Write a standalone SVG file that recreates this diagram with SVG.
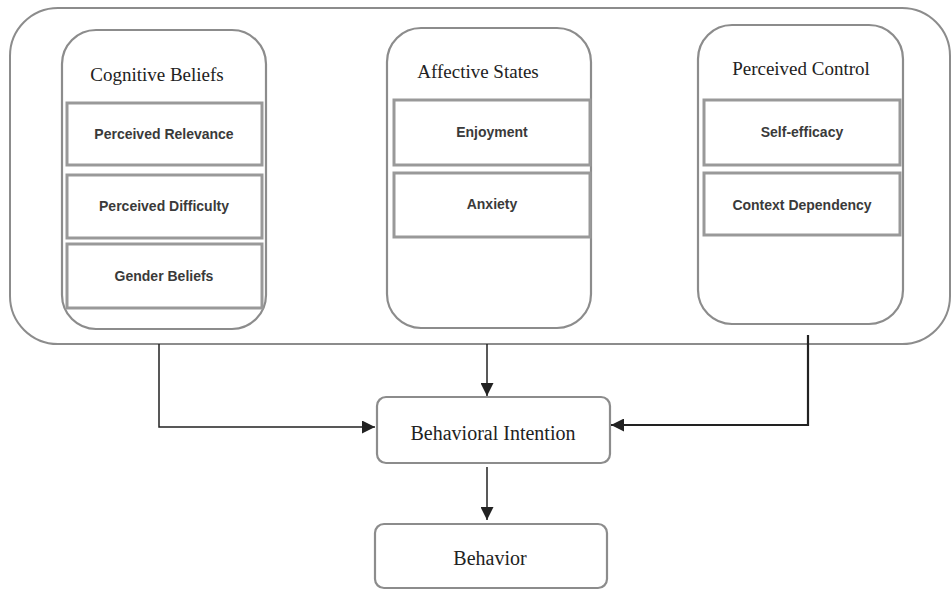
<svg xmlns="http://www.w3.org/2000/svg" width="952" height="590" viewBox="0 0 952 590">
<style>
.outer{fill:#fff;stroke:#8c8c8c;stroke-width:2}
.grp{fill:#fff;stroke:#8c8c8c;stroke-width:2.2}
.item{fill:#fff;stroke:#999;stroke-width:3}
.node{fill:#fff;stroke:#8c8c8c;stroke-width:2.2}
.title{font-family:"Liberation Serif","DejaVu Serif",serif;font-size:19px;fill:#222}
.lbl{font-family:"Liberation Sans","DejaVu Sans",sans-serif;font-size:14px;font-weight:bold;fill:#3a3a3a}
.big{font-family:"Liberation Serif","DejaVu Serif",serif;font-size:20px;fill:#222}
.con{fill:none;stroke:#222;stroke-width:1.5}
</style>
<defs>
<marker id="ah" viewBox="0 0 10 10" refX="10" refY="5" markerWidth="13" markerHeight="13" markerUnits="userSpaceOnUse" orient="auto">
<path d="M0,0 L10,5 L0,10 Z" fill="#222"/>
</marker>
</defs>
<rect class="outer" x="10" y="8" width="940" height="336" rx="48" ry="48"/>
<g id="cognitive">
<rect class="grp" x="62" y="30" width="204" height="299" rx="34" ry="34"/>
<text class="title" x="157" y="81" text-anchor="middle">Cognitive Beliefs</text>
<g id="relevance"><rect class="item" x="67" y="103" width="195" height="62"/><text class="lbl" x="164" y="139" text-anchor="middle">Perceived Relevance</text></g>
<g id="difficulty"><rect class="item" x="67" y="175" width="195" height="63"/><text class="lbl" x="164" y="211" text-anchor="middle">Perceived Difficulty</text></g>
<g id="gender"><rect class="item" x="67" y="244" width="195" height="64"/><text class="lbl" x="164" y="281" text-anchor="middle">Gender Beliefs</text></g>
</g>
<g id="affective">
<rect class="grp" x="387" y="28" width="204" height="300" rx="34" ry="34"/>
<text class="title" x="478" y="78" text-anchor="middle">Affective States</text>
<g id="enjoyment"><rect class="item" x="394" y="100" width="196" height="65"/><text class="lbl" x="492" y="137" text-anchor="middle">Enjoyment</text></g>
<g id="anxiety"><rect class="item" x="394" y="173" width="196" height="64"/><text class="lbl" x="492" y="209" text-anchor="middle">Anxiety</text></g>
</g>
<g id="control">
<rect class="grp" x="698" y="25" width="205" height="299" rx="34" ry="34"/>
<text class="title" x="801" y="75" text-anchor="middle">Perceived Control</text>
<g id="selfefficacy"><rect class="item" x="704" y="100" width="196" height="65"/><text class="lbl" x="802" y="137" text-anchor="middle">Self-efficacy</text></g>
<g id="context"><rect class="item" x="704" y="173" width="196" height="62"/><text class="lbl" x="802" y="210" text-anchor="middle">Context Dependency</text></g>
</g>
<g id="intention">
<rect class="node" x="377" y="397" width="233" height="66" rx="9" ry="9"/>
<text class="big" x="493" y="440" text-anchor="middle">Behavioral Intention</text>
</g>
<g id="behavior">
<rect class="node" x="375" y="524" width="232" height="64" rx="9" ry="9"/>
<text class="big" x="490" y="565" text-anchor="middle">Behavior</text>
</g>
<g id="connectors">
<path class="con" d="M159,344 V427 H375" marker-end="url(#ah)"/>
<path class="con" d="M487,344 V396" marker-end="url(#ah)"/>
<path class="con" d="M808,335 V425 H611" style="stroke-width:2.2" marker-end="url(#ah)"/>
<path class="con" d="M487,467 V520" marker-end="url(#ah)"/>
</g>
</svg>
